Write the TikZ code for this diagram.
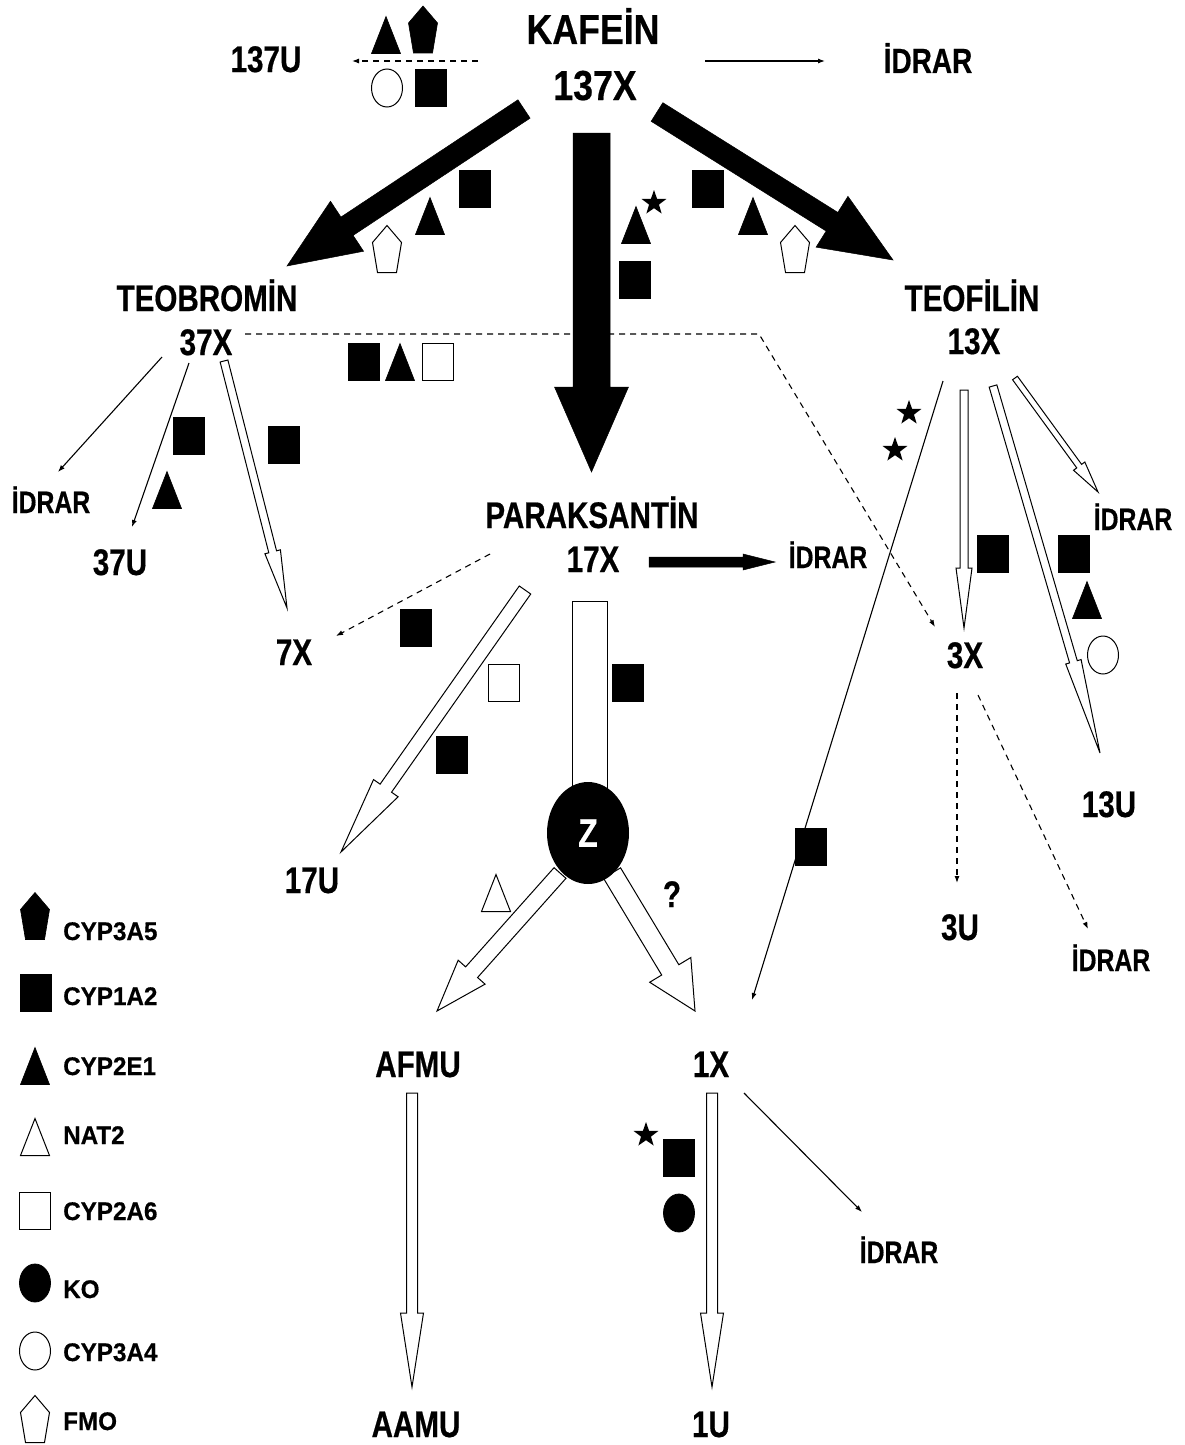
\documentclass[tikz,border=0pt]{standalone}
\usepackage{fontspec}
\setmainfont{Liberation Sans}
\newfontfamily\labfont{Liberation Sans}[FakeStretch=0.8, FakeBold=0.5]
\newfontfamily\bigfont{Liberation Sans}[FakeStretch=0.85, FakeBold=0.5]
\newfontfamily\legfont{Liberation Sans}[FakeStretch=0.95, FakeBold=0.5]
\usetikzlibrary{arrows.meta,shapes.geometric,calc}

\newcommand\fsz[1]{\fontsize{#1}{#1}\selectfont}

% block arrow: [style]{from}{to}{half shaft width}{half head width}{head length}
\newcommand\blockarrow[6][]{%
  \coordinate (ba-c) at ($(#3)!#6pt!(#2)$);
  \draw[#1] ($(#2)!#4pt!90:(#3)$) -- ($(ba-c)!#4pt!90:(#3)$) -- ($(ba-c)!#5pt!90:(#3)$)
    -- (#3) -- ($(ba-c)!#5pt!-90:(#3)$) -- ($(ba-c)!#4pt!-90:(#3)$)
    -- ($(#2)!#4pt!-90:(#3)$) -- cycle;}

\tikzset{
  big/.style={font=\bigfont\bfseries\fsz{42}, anchor=base, inner sep=0},
  lab/.style={font=\labfont\bfseries\fsz{37}, anchor=base, inner sep=0},
  urine/.style={font=\labfont\bfseries\fsz{31}, anchor=base, inner sep=0},
  urinetop/.style={font=\labfont\bfseries\fsz{35}, anchor=base, inner sep=0},
  leg/.style={font=\legfont\bfseries\fsz{25.5}, anchor=base west, inner sep=0},
  flow/.style={line width=1.1pt, -{Latex[length=7pt,width=5pt]}},
  dflow/.style={flow, dash pattern=on 6pt off 5pt},
  hollow/.style={draw=black, fill=white, line width=1pt, line join=miter},
  solid arrow/.style={draw=black, fill=black, line width=0.5pt, line join=miter},
  sqf/.style={rectangle, draw=black, fill=black, minimum width=31pt, minimum height=37pt, inner sep=0, line width=0.8pt},
  sqo/.style={sqf, fill=white, line width=1pt},
  elf/.style={ellipse, draw=black, fill=black, minimum width=31pt, minimum height=38pt, inner sep=0, line width=0.8pt},
  elo/.style={elf, fill=white, line width=1pt},
  starf/.style={star, star points=5, star point ratio=2.5, fill=black, inner sep=0, minimum size=26pt},
  pics/trif/.style={code={\filldraw[line width=0.6pt] (-14.5,18.5) -- (14.5,18.5) -- (0,-18.5) -- cycle;}},
  pics/trio/.style={code={\draw[line width=1pt, fill=white] (-14.5,18.5) -- (14.5,18.5) -- (0,-18.5) -- cycle;}},
  pics/pentf/.style={code={\filldraw[line width=0.6pt] (0,-23.5) -- (14.5,-6.5) -- (9.5,23.5) -- (-9.5,23.5) -- (-14.5,-6.5) -- cycle;}},
  pics/pento/.style={code={\draw[line width=1pt, fill=white] (0,-23.5) -- (14.5,-6.5) -- (9.5,23.5) -- (-9.5,23.5) -- (-14.5,-6.5) -- cycle;}},
}

\begin{document}
\begin{tikzpicture}[x=1pt,y=-1pt]
\useasboundingbox (0,0) rectangle (1184,1445);
\fill[white] (0,0) rectangle (1184,1445);

% ---------- compound labels ----------
\node[big] (kaf) at (593,44) {KAFEİN};
\node[big] (x137) at (595,100) {137X};
\node[lab] (u137) at (266,72) {137U};
\node[urinetop] (ur0) at (928,73) {İDRAR};
\node[lab] (teob) at (207,311) {TEOBROMİN};
\node[lab] (x37) at (206,355) {37X};
\node[lab] (teof) at (972,311) {TEOFİLİN};
\node[lab] (x13) at (974,354) {13X};
\node[lab] (para) at (592,528) {PARAKSANTİN};
\node[lab] (x17) at (593,572) {17X};
\node[urine] (ur17) at (828,568) {İDRAR};
\node[urine] (ur37) at (51,513) {İDRAR};
\node[lab] (u37) at (120,575) {37U};
\node[lab] (x7) at (294,665) {7X};
\node[lab] (x3) at (965,668) {3X};
\node[urine] (ur13) at (1133,530) {İDRAR};
\node[lab] (u13) at (1109,817) {13U};
\node[lab] (u17) at (312,893) {17U};
\node[lab] (u3) at (960,940) {3U};
\node[urine] (ur3) at (1111,971) {İDRAR};
\node[lab] (afmu) at (418,1077) {AFMU};
\node[lab] (x1) at (711,1077) {1X};
\node[urine] (ur1) at (899,1263) {İDRAR};
\node[lab] (aamu) at (416,1437) {AAMU};
\node[lab] (u1) at (711,1437) {1U};
\node[lab] (q) at (672,907) {?};

% ---------- connector end points ----------
\coordinate (a1s) at (478,61);   \coordinate (a1e) at (352,61);
\coordinate (a2s) at (705,61);   \coordinate (a2e) at (825,61);
\coordinate (b1s) at (524,109);  \coordinate (b1e) at (287,266);
\coordinate (b2s) at (657,112);  \coordinate (b2e) at (893,260);
\coordinate (b3s) at (591.5,133);\coordinate (b3e) at (591.5,472);
\coordinate (c1s) at (162,357);  \coordinate (c1e) at (58,472);
\coordinate (c2s) at (189,363);  \coordinate (c2e) at (132,527);
\coordinate (c3s) at (224,361);  \coordinate (c3e) at (287,608);
\coordinate (c4s) at (245,334);  \coordinate (c4m) at (759,334); \coordinate (c4e) at (935,627);
\coordinate (d1s) at (649,562);  \coordinate (d1e) at (775,562);
\coordinate (d2s) at (490,554);  \coordinate (d2e) at (336,636);
\coordinate (d3s) at (525,590);  \coordinate (d3e) at (341,852);
\coordinate (e1s) at (560,873);  \coordinate (e1e) at (437,1011);
\coordinate (e2s) at (612,873);  \coordinate (e2e) at (695,1011);
\coordinate (f1s) at (943,381);  \coordinate (f1e) at (752,1000);
\coordinate (f2s) at (964,390);  \coordinate (f2e) at (964,628);
\coordinate (f3s) at (993,386);  \coordinate (f3e) at (1100,753);
\coordinate (f4s) at (1015,378); \coordinate (f4e) at (1098,492);
\coordinate (g1s) at (957,693);  \coordinate (g1e) at (957,883);
\coordinate (g2s) at (978,695);  \coordinate (g2e) at (1088,929);
\coordinate (h1s) at (744,1093); \coordinate (h1e) at (862,1212);
\coordinate (h2s) at (712,1093); \coordinate (h2e) at (712,1387);
\coordinate (i1s) at (412,1093); \coordinate (i1e) at (412,1387);

% ---------- thin connectors ----------
\draw[dflow] (a1s) -- (a1e);
\draw[flow] (a2s) -- (a2e);
\draw[flow] (c1s) -- (c1e);
\draw[flow] (c2s) -- (c2e);
\draw[dflow] (c4s) -- (c4m) -- (c4e);
\draw[dflow] (d2s) -- (d2e);
\draw[flow] (f1s) -- (f1e);
\draw[dflow] (g1s) -- (g1e);
\draw[dflow] (g2s) -- (g2e);
\draw[flow] (h1s) -- (h1e);

% ---------- block arrows ----------
\blockarrow[solid arrow]{b1s}{b1e}{11}{30}{72}
\blockarrow[solid arrow]{b2s}{b2e}{11}{30}{72}
\blockarrow[solid arrow]{b3s}{b3e}{18.5}{37}{85}
\blockarrow[solid arrow]{d1s}{d1e}{5}{8}{32}
\blockarrow[hollow]{c3s}{c3e}{4}{8}{58}
\blockarrow[hollow]{d3s}{d3e}{7}{15}{78}
\blockarrow[hollow]{f2s}{f2e}{4}{8}{60}
\blockarrow[hollow]{f3s}{f3e}{4}{8}{95}
\blockarrow[hollow]{f4s}{f4e}{3}{7}{32}
\blockarrow[hollow]{e1s}{e1e}{8}{18}{52}
\blockarrow[hollow]{e2s}{e2e}{10}{24}{48}
\blockarrow[hollow]{h2s}{h2e}{5.5}{11.5}{74}
\blockarrow[hollow]{i1s}{i1e}{5.5}{11.5}{74}

% paraxanthine channel into Z
\draw[hollow] (572,601) rectangle (607,800);
\node[ellipse, fill=black, minimum width=82pt, minimum height=102pt, inner sep=0,
      text=white, font=\labfont\bfseries\fsz{40}] (z) at (588,833) {Z};

% ---------- enzyme symbols ----------
\pic at (386,35) {trif};
\pic at (423,29.5) {pentf};
\node[elo] (o1) at (387,88) {};
\node[sqf] (s1) at (431,88) {};

\node[sqf] (s2) at (475,189) {};
\pic at (430,216) {trif};
\pic at (387,249) {pento};

\node[starf] (st1) at (654,203) {};
\pic at (636,225) {trif};
\node[sqf] (s3) at (635,280) {};

\node[sqf] (s4) at (708,189) {};
\pic at (753,216) {trif};
\pic at (795,249) {pento};

\node[sqf] (s5) at (364,362) {};
\pic at (400,362) {trif};
\node[sqo] (so1) at (438,362) {};

\node[sqf] (s6) at (189,436) {};
\pic at (167,490) {trif};
\node[sqf] (s7) at (284,445) {};

\node[sqf] (s8) at (416,628) {};
\node[sqo] (so2) at (504,683) {};
\node[sqf] (s9) at (452,755) {};
\node[sqf] (s10) at (628,683) {};
\pic at (496,893) {trio};

\node[starf] (st2) at (909,413) {};
\node[starf] (st3) at (895,450) {};
\node[sqf] (s11) at (993,554) {};
\node[sqf] (s12) at (1074,554) {};
\pic at (1087,600) {trif};
\node[elo] (o2) at (1103,655) {};
\node[sqf] (s13) at (811,847) {};

\node[starf] (st4) at (646,1135) {};
\node[sqf] (s14) at (679,1158) {};
\node[elf] (k1) at (679,1213) {};

% ---------- legend ----------
\pic at (35,916) {pentf};
\node[leg] (l1) at (63,940) {CYP3A5};
\node[sqf] (ls2) at (36,993) {};
\node[leg] (l2) at (63,1005) {CYP1A2};
\pic at (35,1066) {trif};
\node[leg] (l3) at (63,1075) {CYP2E1};
\pic at (35,1137) {trio};
\node[leg] (l4) at (63,1144) {NAT2};
\node[sqo] (ls5) at (35,1211) {};
\node[leg] (l5) at (63,1220) {CYP2A6};
\node[elf] (ls6) at (35,1283) {};
\node[leg] (l6) at (63,1298) {KO};
\node[elo] (ls7) at (35,1351) {};
\node[leg] (l7) at (63,1361) {CYP3A4};
\pic at (35,1419) {pento};
\node[leg] (l8) at (63,1430) {FMO};
\end{tikzpicture}
\end{document}
